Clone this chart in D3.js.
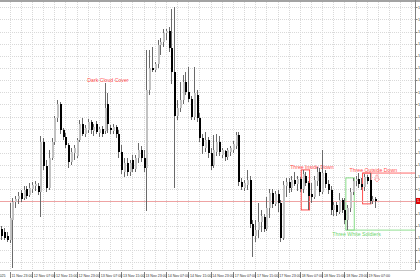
<!DOCTYPE html>
<html>
<head>
<meta charset="utf-8">
<script src="https://cdn.jsdelivr.net/npm/d3@7"></script>
<style>
  body { margin: 0; background: #fff; }
  svg { display: block; font-family: "Liberation Sans", Arial, sans-serif; }
</style>
</head>
<body>
<svg id="chart"></svg>
<script>
// hourly candles, 11 Nov 2025 20:00 -> 19 Nov 2025 10:00 (weekend skipped)
const open = [
  1.15586, 1.15574, 1.15558, 1.15541, 1.15624, 1.15698, 1.15710, 1.15735, 1.15714, 1.15751,
  1.15727, 1.15751, 1.15764, 1.15764, 1.15739, 1.15945, 1.15846, 1.15755, 1.15879, 1.15945,
  1.16044, 1.16102, 1.15994, 1.15966, 1.15933, 1.15863, 1.15900, 1.15887, 1.15953, 1.16019,
  1.15978, 1.15994, 1.16027, 1.15990, 1.16019, 1.15982, 1.15999, 1.15990, 1.16102, 1.16003,
  1.15990, 1.16007, 1.15978, 1.15904, 1.15821, 1.15858, 1.15821, 1.15871, 1.15834, 1.15879,
  1.15912, 1.15879, 1.15838, 1.16159, 1.16250, 1.16242, 1.16266, 1.16345, 1.16357, 1.16394,
  1.16402, 1.16332, 1.16233, 1.16052, 1.16085, 1.16118, 1.16192, 1.16151, 1.16122, 1.16048,
  1.16139, 1.16044, 1.15961, 1.15920, 1.15953, 1.15900, 1.15850, 1.15904, 1.15945, 1.15891,
  1.15908, 1.15883, 1.15904, 1.15912, 1.15928, 1.15974, 1.15780, 1.15755, 1.15768, 1.15788,
  1.15607, 1.15558, 1.15582, 1.15615, 1.15636, 1.15586, 1.15673, 1.15735, 1.15690, 1.15731,
  1.15694, 1.15549, 1.15764, 1.15780, 1.15755, 1.15788, 1.15772, 1.15792, 1.15751, 1.15805,
  1.15776, 1.15731, 1.15718, 1.15784, 1.15821, 1.15739, 1.15817, 1.15772, 1.15747, 1.15665,
  1.15685, 1.15657, 1.15706, 1.15665, 1.15624, 1.15673, 1.15739, 1.15784, 1.15792, 1.15772,
  1.15760, 1.15801, 1.15788, 1.15702, 1.15710
];
const high = [
  1.15599, 1.15591, 1.15574, 1.15694, 1.15714, 1.15722, 1.15739, 1.15747, 1.15764, 1.15764,
  1.15776, 1.15780, 1.15784, 1.15776, 1.15970, 1.15961, 1.15871, 1.15912, 1.15961, 1.16052,
  1.16118, 1.16110, 1.16003, 1.15982, 1.15941, 1.15920, 1.15933, 1.15961, 1.16036, 1.16044,
  1.16015, 1.16040, 1.16036, 1.16019, 1.16031, 1.16007, 1.16011, 1.16188, 1.16147, 1.16015,
  1.16019, 1.16015, 1.15994, 1.15933, 1.15879, 1.15879, 1.15871, 1.15891, 1.15891, 1.15941,
  1.15928, 1.15912, 1.16324, 1.16324, 1.16336, 1.16275, 1.16365, 1.16373, 1.16411, 1.16411,
  1.16419, 1.16493, 1.16501, 1.16118, 1.16192, 1.16221, 1.16233, 1.16254, 1.16134, 1.16254,
  1.16159, 1.16064, 1.15978, 1.15986, 1.15966, 1.15920, 1.15974, 1.15978, 1.15970, 1.15920,
  1.15912, 1.15920, 1.15928, 1.15949, 1.15986, 1.15986, 1.15797, 1.15788, 1.15830, 1.15805,
  1.15624, 1.15624, 1.15694, 1.15665, 1.15648, 1.15718, 1.15751, 1.15751, 1.15743, 1.15747,
  1.15706, 1.15784, 1.15797, 1.15797, 1.15805, 1.15821, 1.15805, 1.15801, 1.15830, 1.15821,
  1.15784, 1.15776, 1.15805, 1.15842, 1.15838, 1.15912, 1.15830, 1.15788, 1.15764, 1.15698,
  1.15698, 1.15735, 1.15714, 1.15714, 1.15685, 1.15755, 1.15797, 1.15805, 1.15817, 1.15797,
  1.15813, 1.15809, 1.15817, 1.15722, 1.15718
];
const low = [
  1.15541, 1.15541, 1.15533, 1.15529, 1.15426, 1.15673, 1.15690, 1.15698, 1.15706, 1.15710,
  1.15718, 1.15735, 1.15743, 1.15727, 1.15636, 1.15830, 1.15739, 1.15747, 1.15871, 1.15933,
  1.16027, 1.15978, 1.15953, 1.15920, 1.15838, 1.15850, 1.15871, 1.15879, 1.15945, 1.15970,
  1.15966, 1.15982, 1.15978, 1.15970, 1.15978, 1.15966, 1.15966, 1.15978, 1.15982, 1.15978,
  1.15978, 1.15961, 1.15879, 1.15813, 1.15801, 1.15805, 1.15805, 1.15821, 1.15821, 1.15858,
  1.15863, 1.15821, 1.15661, 1.16139, 1.16233, 1.16233, 1.16250, 1.16303, 1.16336, 1.16365,
  1.16316, 1.16184, 1.15755, 1.16036, 1.16069, 1.16102, 1.16139, 1.16110, 1.16036, 1.16036,
  1.16027, 1.15945, 1.15895, 1.15904, 1.15879, 1.15830, 1.15838, 1.15887, 1.15887, 1.15879,
  1.15867, 1.15871, 1.15887, 1.15900, 1.15916, 1.15764, 1.15747, 1.15743, 1.15747, 1.15591,
  1.15471, 1.15533, 1.15549, 1.15574, 1.15574, 1.15578, 1.15632, 1.15673, 1.15681, 1.15657,
  1.15533, 1.15541, 1.15718, 1.15735, 1.15739, 1.15764, 1.15743, 1.15739, 1.15735, 1.15764,
  1.15665, 1.15694, 1.15710, 1.15764, 1.15722, 1.15731, 1.15755, 1.15731, 1.15644, 1.15640,
  1.15640, 1.15648, 1.15652, 1.15607, 1.15582, 1.15657, 1.15727, 1.15764, 1.15755, 1.15747,
  1.15743, 1.15772, 1.15690, 1.15690, 1.15673
];
const close = [
  1.15558, 1.15549, 1.15541, 1.15632, 1.15698, 1.15710, 1.15722, 1.15710, 1.15747, 1.15722,
  1.15755, 1.15768, 1.15772, 1.15739, 1.15945, 1.15846, 1.15755, 1.15879, 1.15945, 1.16044,
  1.16102, 1.15994, 1.15966, 1.15933, 1.15863, 1.15904, 1.15920, 1.15953, 1.16019, 1.15978,
  1.16003, 1.16027, 1.15994, 1.16007, 1.15986, 1.15999, 1.15978, 1.16085, 1.16019, 1.15994,
  1.16007, 1.15978, 1.15904, 1.15830, 1.15858, 1.15821, 1.15858, 1.15834, 1.15879, 1.15912,
  1.15879, 1.15838, 1.16159, 1.16250, 1.16242, 1.16266, 1.16345, 1.16357, 1.16394, 1.16402,
  1.16332, 1.16233, 1.16052, 1.16085, 1.16118, 1.16192, 1.16151, 1.16122, 1.16048, 1.16147,
  1.16044, 1.15961, 1.15928, 1.15953, 1.15900, 1.15846, 1.15912, 1.15945, 1.15904, 1.15912,
  1.15883, 1.15912, 1.15920, 1.15937, 1.15974, 1.15780, 1.15760, 1.15776, 1.15788, 1.15607,
  1.15558, 1.15582, 1.15615, 1.15640, 1.15586, 1.15673, 1.15735, 1.15690, 1.15731, 1.15694,
  1.15549, 1.15768, 1.15780, 1.15755, 1.15788, 1.15772, 1.15792, 1.15751, 1.15813, 1.15776,
  1.15722, 1.15718, 1.15788, 1.15821, 1.15739, 1.15817, 1.15772, 1.15747, 1.15665, 1.15685,
  1.15657, 1.15706, 1.15665, 1.15624, 1.15673, 1.15739, 1.15784, 1.15792, 1.15772, 1.15760,
  1.15801, 1.15784, 1.15702, 1.15710, 1.15702
];

const priceTicks = [
  1.1650, 1.1645, 1.1640, 1.1635, 1.1630, 1.1625, 1.1620, 1.1615, 1.1610, 1.1605, 1.1600,
  1.1595, 1.1590, 1.1585, 1.1580, 1.1575, 1.1570, 1.1565, 1.1560, 1.1555, 1.1550, 1.1545
];
const timeTicks = [
  '11 Nov 23:00', '12 Nov 07:00', '12 Nov 15:00', '12 Nov 23:00', '13 Nov 07:00',
  '13 Nov 15:00', '13 Nov 23:00', '14 Nov 07:00', '14 Nov 15:00', '14 Nov 23:00',
  '17 Nov 07:00', '17 Nov 15:00', '17 Nov 23:00', '18 Nov 07:00', '18 Nov 15:00',
  '18 Nov 23:00', '19 Nov 07:00'
];
const firstLabel = '11 Nov 2025';

// candle patterns found by the indicator
const patterns = [
  { name: 'Dark Cloud Cover', from: 37, to: 38, kind: 'bear', box: false, extend: false },
  { name: 'Three Inside Down', from: 108, to: 110, kind: 'bear', box: true, extend: false },
  { name: 'Three White Soldiers', from: 124, to: 126, kind: 'bull', box: true, extend: true },
  { name: 'Three Outside Down', from: 130, to: 132, kind: 'bear', box: true, extend: true },
];

// hourly bar times, Mon-Fri only
const months = ['Jan','Feb','Mar','Apr','May','Jun','Jul','Aug','Sep','Oct','Nov','Dec'];
const times = [];
let t = Date.UTC(2025, 10, 11, 20);
while (times.length < open.length) {
  const d = new Date(t);
  const wd = d.getUTCDay();
  if (wd !== 0 && wd !== 6) {
    times.push(`${d.getUTCDate()} ${months[d.getUTCMonth()]} ${String(d.getUTCHours()).padStart(2, '0')}:00`);
  }
  t += 3600 * 1000;
}

const data = times.map((time, i) => ({
  i, time, o: open[i], h: high[i], l: low[i], c: close[i],
}));

const W = 420, H = 280;
const plot = { left: 0, right: 415, top: 0, bottom: 270 };
const step = 2.79;

const svg = d3.select('#chart').attr('width', W).attr('height', H);

const x = d3.scaleLinear().domain([0, 1]).range([1.3, 1.3 + step]);
const y = d3.scaleLinear().domain([1.154176, 1.1653]).range([plot.bottom, plot.top]);
const px = v => Math.round(v) + 0.5;

// grid
const grid = svg.append('g').attr('stroke', '#d9d9d9').attr('stroke-dasharray', '1,1');
grid.selectAll('line.h')
  .data(priceTicks)
  .join('line')
  .attr('x1', plot.left).attr('x2', plot.right)
  .attr('y1', d => px(y(d))).attr('y2', d => px(y(d)));

const lastSlot = Math.floor(x.invert(plot.right));
const vIdx = d3.range(3, lastSlot + 1, 4);
grid.selectAll('line.v')
  .data(vIdx)
  .join('line')
  .attr('x1', d => px(x(d))).attr('x2', d => px(x(d)))
  .attr('y1', 2).attr('y2', plot.bottom);

// pattern boxes and lines (behind the candles)
const pat = svg.append('g');
const colorOf = p => (p.kind === 'bear' ? '#ff3b3b' : '#7ad87a');
const boxOf = p => {
  const seg = data.slice(p.from, p.to + 1);
  return {
    x0: x(p.from) - step / 2,
    x1: x(p.to) + step / 2,
    top: y(d3.max(seg, d => d.h)),
    bottom: y(d3.min(seg, d => d.l)),
  };
};

patterns.forEach(p => {
  const b = boxOf(p);
  const col = colorOf(p);
  if (p.box) {
    pat.append('rect')
      .attr('x', b.x0).attr('y', b.top)
      .attr('width', b.x1 - b.x0).attr('height', b.bottom - b.top)
      .attr('fill', 'none').attr('stroke', col).attr('stroke-width', 0.9);
  }
  if (p.extend) {
    const ly = p.kind === 'bear' ? b.top : b.bottom;
    pat.append('line')
      .attr('x1', b.x0).attr('x2', plot.right)
      .attr('y1', ly).attr('y2', ly)
      .attr('stroke', p.kind === 'bear' ? '#ff6b6b' : '#93e093').attr('stroke-width', 1);
  }
  const cx = (b.x0 + b.x1) / 2 + (p.box ? 6.5 : 2);
  pat.append('text')
    .attr('x', cx)
    .attr('y', p.kind === 'bear' ? b.top - 1 : b.bottom + 5.5)
    .attr('text-anchor', 'middle')
    .attr('font-size', 5.2)
    .attr('fill', p.kind === 'bear' ? '#ff4d4d' : '#6fd66f')
    .text(p.name);
});

// down arrow next to the last bearish signal
{
  const p = patterns[patterns.length - 1];
  const b = boxOf(p);
  const ax = b.x1 + 6, ay = b.top + 2;
  pat.append('path')
    .attr('d', `M${ax - 1},${ay} h2 v4 h1.6 l-2.6,3 l-2.6,-3 h1.6 z`)
    .attr('fill', '#fff').attr('stroke', '#ff7a7a').attr('stroke-width', 0.6);
}

// current price line
const last = data[data.length - 1];
svg.append('line')
  .attr('x1', plot.left).attr('x2', plot.right)
  .attr('y1', px(y(last.c))).attr('y2', px(y(last.c)))
  .attr('stroke', '#eea3a3').attr('stroke-width', 1);

// candles
const candles = svg.append('g').attr('shape-rendering', 'crispEdges');
candles.selectAll('line')
  .data(data)
  .join('line')
  .attr('x1', d => px(x(d.i))).attr('x2', d => px(x(d.i)))
  .attr('y1', d => y(d.h)).attr('y2', d => y(d.l))
  .attr('stroke', '#6a6a6a');

candles.selectAll('rect')
  .data(data)
  .join('rect')
  .attr('x', d => Math.round(x(d.i)))
  .attr('width', 2)
  .attr('y', d => y(Math.max(d.o, d.c)))
  .attr('height', d => Math.max(1, Math.abs(y(d.o) - y(d.c))))
  .attr('fill', d => (d.c >= d.o ? '#c2c2c2' : '#000'));

// frame
svg.append('line')
  .attr('x1', 0).attr('x2', W).attr('y1', 1).attr('y2', 1)
  .attr('stroke', '#a3a3a3').attr('stroke-width', 2);
svg.append('line')
  .attr('x1', plot.right + 0.5).attr('x2', plot.right + 0.5)
  .attr('y1', 0).attr('y2', plot.bottom)
  .attr('stroke', '#808080');
svg.append('line')
  .attr('x1', 0).attr('x2', plot.right).attr('y1', plot.bottom + 0.5).attr('y2', plot.bottom + 0.5)
  .attr('stroke', '#c8c8c8');

// price axis
const yAxis = svg.append('g').attr('font-size', 3.8).attr('fill', '#333');
yAxis.selectAll('line')
  .data(priceTicks)
  .join('line')
  .attr('x1', plot.right).attr('x2', plot.right + 2.5)
  .attr('y1', d => px(y(d))).attr('y2', d => px(y(d)))
  .attr('stroke', '#808080');
yAxis.selectAll('text')
  .data(priceTicks)
  .join('text')
  .attr('x', plot.right + 3)
  .attr('y', d => y(d) + 1.3)
  .text(d => d3.format('.5f')(d));

// current price tag
svg.append('rect')
  .attr('x', plot.right + 1).attr('y', y(last.c) - 3)
  .attr('width', 6).attr('height', 6)
  .attr('fill', '#e00000');
svg.append('text')
  .attr('x', plot.right + 2).attr('y', y(last.c) + 1.4)
  .attr('font-size', 3.8).attr('fill', '#fff')
  .text(d3.format('.5f')(last.c));

// time axis
const tAxis = svg.append('g').attr('font-size', 3.6).attr('fill', '#333');
const tickIdx = timeTicks.map(s => times.indexOf(s));
tAxis.selectAll('line')
  .data(tickIdx)
  .join('line')
  .attr('x1', d => px(x(d))).attr('x2', d => px(x(d)))
  .attr('y1', plot.bottom + 2).attr('y2', plot.bottom + 8)
  .attr('stroke', '#808080');
tAxis.selectAll('text')
  .data(tickIdx)
  .join('text')
  .attr('x', d => x(d) + 1.8)
  .attr('y', plot.bottom + 7)
  .text((d, k) => timeTicks[k]);
tAxis.append('text')
  .attr('x', 5.5).attr('y', plot.bottom + 7)
  .attr('text-anchor', 'end')
  .text(firstLabel);
</script>
</body>
</html>
